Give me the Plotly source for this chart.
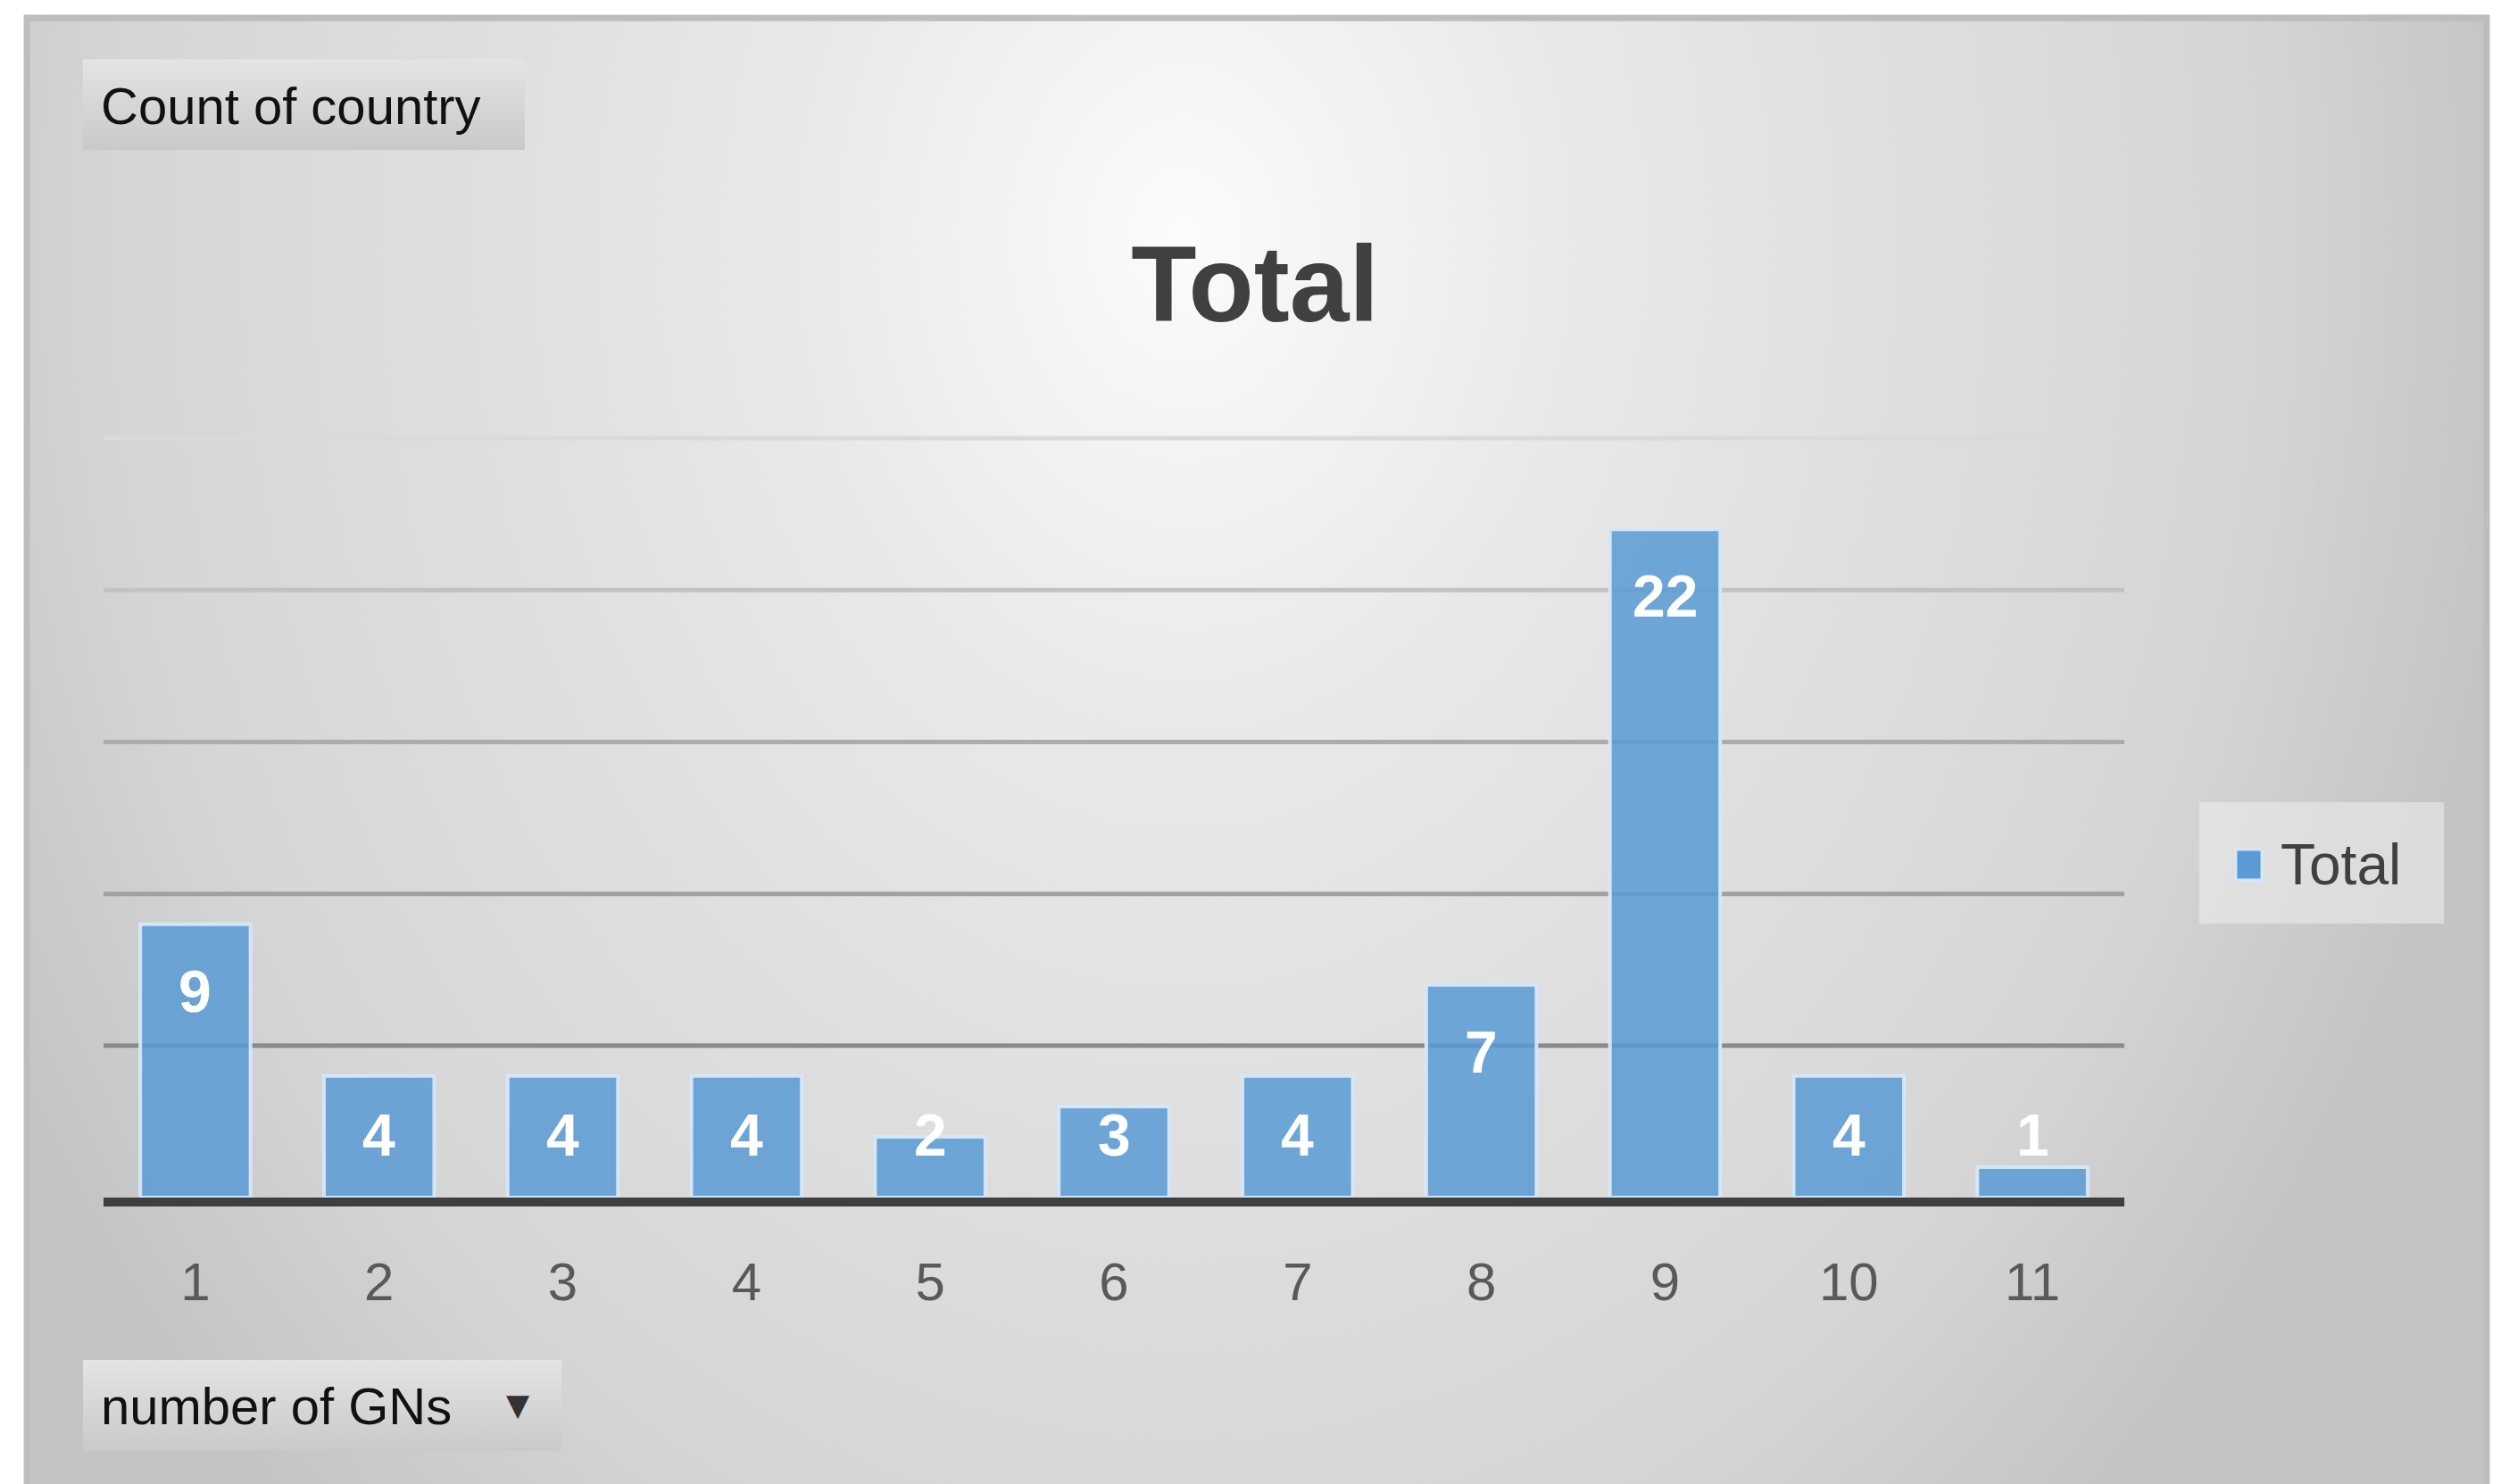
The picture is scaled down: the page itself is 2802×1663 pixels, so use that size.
import base64
import plotly.graph_objects as go

# ---------------- data ----------------
categories = ["1", "2", "3", "4", "5", "6", "7", "8", "9", "10", "11"]
counts = [9, 4, 4, 4, 2, 3, 4, 7, 22, 4, 1]
grid_values = [5, 10, 15, 20, 25]
grid_colors = ["#8a8a8a", "#a0a0a0", "#acacac", "#c2c2c2", "#dadada"]
series_name = "Total"
chart_title = "Total"
value_field = "Count of country"
axis_field = "number of GNs"

# ---------------- geometry helpers (layout only) ----------------
W, H = 2802, 1663
Y_TOP = 25.15
L, R, B = 116, 2380, 1342  # plot area in pixels
T = B - (B - 491) * Y_TOP / 25.0


def px(x):
    return (x - L) / (R - L)


def py(y):
    return (B - y) / (B - T)


def svg_uri(svg):
    return "data:image/svg+xml;base64," + base64.b64encode(svg.encode()).decode()


bg_svg = (
    "<svg xmlns='http://www.w3.org/2000/svg' width='2762' height='1660' "
    "viewBox='0 0 2762 1660' preserveAspectRatio='none'>"
    "<defs><radialGradient id='g' gradientUnits='userSpaceOnUse' cx='1300' cy='250' r='1500' "
    "gradientTransform='translate(1300 250) scale(1 1.27) translate(-1300 -250)'>"
    "<stop offset='0' stop-color='#fbfbfb'/>"
    "<stop offset='0.3' stop-color='#e8e8e8'/>"
    "<stop offset='0.55' stop-color='#dedede'/>"
    "<stop offset='0.8' stop-color='#d5d5d5'/>"
    "<stop offset='1' stop-color='#c4c4c4'/>"
    "</radialGradient></defs>"
    "<rect width='2762' height='1660' fill='url(#g)'/></svg>"
)

box_svg = (
    "<svg xmlns='http://www.w3.org/2000/svg' width='100' height='100' "
    "viewBox='0 0 100 100' preserveAspectRatio='none'>"
    "<defs><linearGradient id='b' x1='0' y1='0' x2='0' y2='1'>"
    "<stop offset='0' stop-color='#e4e4e4'/><stop offset='1' stop-color='#c9c9c9'/>"
    "</linearGradient></defs><rect width='100' height='100' fill='url(#b)'/></svg>"
)

FONT = "Liberation Sans, Arial, sans-serif"
BAR_FILL = "rgba(91,155,213,0.86)"
BAR_EDGE = "rgba(214,232,248,0.95)"

fig = go.Figure()

fig.add_trace(
    go.Bar(
        x=categories,
        y=counts,
        name=series_name,
        width=0.6,
        marker=dict(color=BAR_FILL, line=dict(color=BAR_EDGE, width=4)),
        showlegend=False,
        hoverinfo="x+y",
    )
)

# data labels (inside end, kept clear of the baseline)
for i, v in enumerate(counts):
    fig.add_annotation(
        x=i,
        y=max(v - 2.2, 2.05),
        xref="x",
        yref="y",
        text=str(v),
        showarrow=False,
        font=dict(family=FONT, size=66, color="white", weight="bold"),
        yanchor="middle",
    )

shapes = []
# chart-area border
shapes.append(
    dict(type="rect", xref="paper", yref="paper", x0=px(30), x1=px(2786), y0=py(1700), y1=py(20),
         line=dict(color="#bdbdbd", width=7), fillcolor="rgba(0,0,0,0)", layer="below")
)
# gridlines
for gv, gc in zip(grid_values, grid_colors):
    shapes.append(
        dict(type="line", xref="paper", yref="y", x0=0, x1=1, y0=gv, y1=gv,
             line=dict(color=gc, width=5), layer="below")
    )
# legend box and swatch
shapes.append(
    dict(type="rect", xref="paper", yref="paper", x0=px(2464), x1=px(2738), y0=py(1035), y1=py(899),
         line=dict(width=0), fillcolor="rgba(238,238,238,0.55)", layer="below")
)
shapes.append(
    dict(type="rect", xref="paper", yref="paper", x0=px(2505), x1=px(2534), y0=py(986), y1=py(952),
         line=dict(color=BAR_EDGE, width=3), fillcolor="#5b9bd5", layer="above")
)

images = [
    dict(source=svg_uri(bg_svg), xref="paper", yref="paper", x=px(28), y=py(16),
         sizex=px(2788) - px(28), sizey=py(16) - py(1680), sizing="stretch",
         xanchor="left", yanchor="top", layer="below"),
    dict(source=svg_uri(box_svg), xref="paper", yref="paper", x=px(93), y=py(66),
         sizex=px(588) - px(93), sizey=py(66) - py(168), sizing="stretch",
         xanchor="left", yanchor="top", layer="below"),
    dict(source=svg_uri(box_svg), xref="paper", yref="paper", x=px(93), y=py(1524),
         sizex=px(629) - px(93), sizey=py(1524) - py(1626), sizing="stretch",
         xanchor="left", yanchor="top", layer="below"),
]

fig.add_annotation(
    x=px(2553), y=py(969), xref="paper", yref="paper", text=series_name,
    showarrow=False, xanchor="left", yanchor="middle",
    font=dict(family=FONT, size=64, color="#404040"),
)
fig.add_annotation(
    x=px(111), y=py(118), xref="paper", yref="paper", text=value_field,
    showarrow=False, xanchor="left", yanchor="middle",
    font=dict(family=FONT, size=58, color="#111111"),
)
fig.add_annotation(
    x=px(111), y=py(1576), xref="paper", yref="paper", text=axis_field,
    showarrow=False, xanchor="left", yanchor="middle",
    font=dict(family=FONT, size=58, color="#111111"),
)
fig.add_annotation(
    x=px(580), y=py(1574), xref="paper", yref="paper", text="▼",
    showarrow=False, xanchor="center", yanchor="middle",
    font=dict(family="DejaVu Sans", size=34, color="#333333"),
)

fig.update_layout(
    width=W,
    height=H,
    margin=dict(l=L, r=W - R, t=T, b=H - B, pad=0),
    paper_bgcolor="white",
    plot_bgcolor="rgba(0,0,0,0)",
    shapes=shapes,
    images=images,
    showlegend=False,
    title=dict(
        text=chart_title,
        x=1406 / W,
        xanchor="center",
        xref="container",
        y=1 - 318 / H,
        yref="container",
        yanchor="middle",
        font=dict(family=FONT, size=120, color="#404040", weight="bold"),
    ),
    xaxis=dict(
        type="category",
        categoryorder="array",
        categoryarray=categories,
        range=[-0.5, len(categories) - 0.5],
        showgrid=False,
        showline=True,
        linecolor="#3f3f3f",
        linewidth=10,
        zeroline=False,
        ticks="",
        ticklabelstandoff=33,
        tickfont=dict(family=FONT, size=60, color="#595959"),
        fixedrange=True,
    ),
    yaxis=dict(
        range=[0, Y_TOP],
        showgrid=False,
        zeroline=False,
        showline=False,
        showticklabels=False,
        ticks="",
        fixedrange=True,
    ),
)

fig.write_html(
    "out.html",
    config={"displayModeBar": False},
    post_script="document.body.style.margin='0';document.body.style.overflow='hidden';",
)
